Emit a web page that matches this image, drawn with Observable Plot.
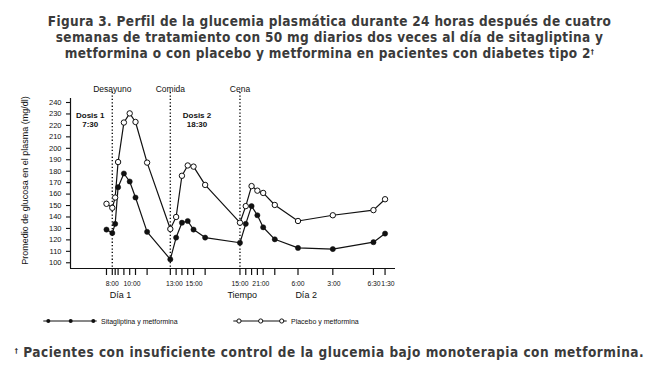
<!DOCTYPE html>
<html>
<head>
<meta charset="utf-8">
<script src="https://cdn.jsdelivr.net/npm/d3@7"></script>
<script src="https://cdn.jsdelivr.net/npm/@observablehq/plot@0.6"></script>
<style>
  html, body { margin: 0; padding: 0; background: #fff; }
  body { width: 659px; height: 375px; position: relative; overflow: hidden; }
  .ttl { position: absolute; left: 0; width: 659px; text-align: center;
         font-family: "DejaVu Sans Condensed", Roboto, sans-serif; font-weight: bold;
         font-size: 13.5px; line-height: 16px; color: #3b3b3b; white-space: nowrap; }
  .ttl span { display: inline-block; }
  sup { font-size: 7px; vertical-align: 4px; line-height: 0; }
  #chart { position: absolute; left: 0; top: 70px; }
  #legend { position: absolute; left: 0; top: 311px; }
</style>
</head>
<body>
<div class="ttl" id="title" style="top:13px">
  <span>Figura 3. Perfil de la glucemia plasmática durante 24 horas después de cuatro</span><br>
  <span>semanas de tratamiento con 50 mg diarios dos veces al día de sitagliptina y</span><br>
  <span>metformina o con placebo y metformina en pacientes con diabetes tipo 2<sup>†</sup></span>
</div>
<div id="chart"></div>
<svg id="legend" width="659" height="20" font-family="Liberation Sans, Arial, sans-serif" font-size="7" fill="#111">
  <line x1="43.3" x2="96.7" y1="10" y2="10" stroke="#111" stroke-width="1"/>
  <circle cx="48.3" cy="10" r="2" fill="#111"/>
  <circle cx="70.7" cy="10" r="2" fill="#111"/>
  <circle cx="93.3" cy="10" r="2" fill="#111"/>
  <text x="101" y="12.5">Sitagliptina y metformina</text>
  <line x1="233.3" x2="286.7" y1="10" y2="10" stroke="#111" stroke-width="1"/>
  <circle cx="239" cy="10" r="2.1" fill="#fff" stroke="#111" stroke-width="1"/>
  <circle cx="260.7" cy="10" r="2.1" fill="#fff" stroke="#111" stroke-width="1"/>
  <circle cx="281.7" cy="10" r="2.1" fill="#fff" stroke="#111" stroke-width="1"/>
  <text x="291" y="12.5">Placebo y metformina</text>
</svg>
<div class="ttl" id="foot" style="top:344px">
  <span><sup>†</sup> Pacientes con insuficiente control de la glucemia bajo monoterapia con metformina.</span>
</div>
<script>
// ---- data ----
// sampling times, hours from 0:00 of day 1
const times = [7.5, 8, 8.25, 8.5, 9, 9.5, 10, 11, 13, 13.5, 14, 14.5, 15, 16, 19, 19.5, 20, 20.5, 21, 22, 24, 27, 30.5, 31.5];
const sitagliptina = [129, 126, 134, 166, 178, 171, 157, 127, 103, 122, 135, 136.5, 129, 122, 117.5, 134, 149.5, 141.5, 131, 120.5, 113, 112, 118, 125.5];
const placebo = [151.5, 148, 157, 188, 222.5, 230.5, 223, 187.5, 129.5, 140, 176, 185, 184, 168, 135, 149.5, 167, 163, 161, 150.5, 136.5, 141.5, 146, 155.5];

// tick labels as printed in the reference, and where they sit on the time axis
const tickLabels = ["8:00", "10:00", "13:00", "15:00", "15:00", "21:00", "6:00", "3:00", "6:30", "1:30"];
const tickLabelHours = [8, 9.7, 13.35, 15.05, 19, 20.8, 24, 27.1, 30.55, 31.75];
const yTicks = [100, 110, 120, 130, 140, 150, 160, 170, 180, 190, 200, 210, 220, 230, 240];

const meals = ["Desayuno", "Comida", "Cena"];
const mealHours = [8, 13, 19];

const doses = ["Dosis 1\n7:30", "Dosis 2\n18:30"];
const doseHours = [6.1, 15.3];
const doseLevel = [225, 225];

const dayLabels = ["Día 1", "Tiempo", "Día 2"];
const dayHours = [8.7, 19.2, 24.7];

const yTitle = "Promedio de glucosa en el plasma (mg/dl)";

// ---- chart ----
const rows = times.map((t, i) => ({t, s: sitagliptina[i], p: placebo[i]}));
const ink = "#111";

const chart = Plot.plot({
  width: 420,
  height: 240,
  marginLeft: 70,
  marginRight: 25,
  marginTop: 28,
  marginBottom: 42,
  style: {fontFamily: "Liberation Sans, Arial, sans-serif", fontSize: "7.5px", color: ink, background: "transparent"},
  x: {domain: [4.4, 32.4], label: null},
  y: {domain: [95, 243.5], label: null},
  marks: [
    Plot.ruleX(mealHours, {x: d => d, insetTop: -6, stroke: ink, strokeWidth: 1.4, strokeDasharray: "1.3,2.1"}),
    Plot.ruleY([95], {stroke: ink, strokeWidth: 1.2}),
    Plot.ruleX([4.4], {stroke: ink, strokeWidth: 1.2}),
    Plot.axisY({ticks: yTicks, tickSize: 4, tickPadding: 5, label: null, fontSize: 7.5, strokeWidth: 1.1}),
    Plot.axisX({ticks: times, tickSize: 7, tickFormat: () => "", label: null, strokeWidth: 1.2}),
    Plot.axisX({ticks: tickLabelHours, tickSize: 0, tickPadding: 12.5, label: null, fontSize: 6.8,
                tickFormat: d => tickLabels[tickLabelHours.indexOf(d)]}),
    Plot.line(rows, {x: "t", y: "p", stroke: ink, strokeWidth: 1.2}),
    Plot.line(rows, {x: "t", y: "s", stroke: ink, strokeWidth: 1.2}),
    Plot.dot(rows, {x: "t", y: "p", r: 2.7, fill: "white", stroke: ink, strokeWidth: 1}),
    Plot.dot(rows, {x: "t", y: "s", r: 2.6, fill: ink, stroke: ink, strokeWidth: 0.5}),
    Plot.text(mealHours, {x: d => d, text: (d, i) => meals[i], frameAnchor: "top", dy: -12.5, fontSize: 8.5, fill: ink}),
    Plot.text(doseHours, {x: d => d, y: (d, i) => doseLevel[i], text: (d, i) => doses[i], fontSize: 8, fontWeight: "bold", lineHeight: 1.12, fill: ink}),
    Plot.text(dayHours, {x: d => d, text: (d, i) => dayLabels[i], frameAnchor: "bottom", dy: 29.5, fontSize: 9, fill: ink}),
    Plot.text([yTitle], {frameAnchor: "left", textAnchor: "middle", rotate: -90, dx: -45, dy: -3, fontSize: 9, fill: ink})
  ]
});
document.getElementById("chart").appendChild(chart);

// fit title / footnote width to the reference text widths
function fit(el, target) {
  const w = el.getBoundingClientRect().width;
  const n = el.textContent.length;
  return (target - w) / n;
}
const tSpans = document.querySelectorAll("#title span");
const ls = fit(tSpans[0], 563);
tSpans.forEach(s => s.style.letterSpacing = ls + "px");
const fSpan = document.querySelector("#foot span");
fSpan.style.letterSpacing = fit(fSpan, 629) + "px";
</script>
</body>
</html>
